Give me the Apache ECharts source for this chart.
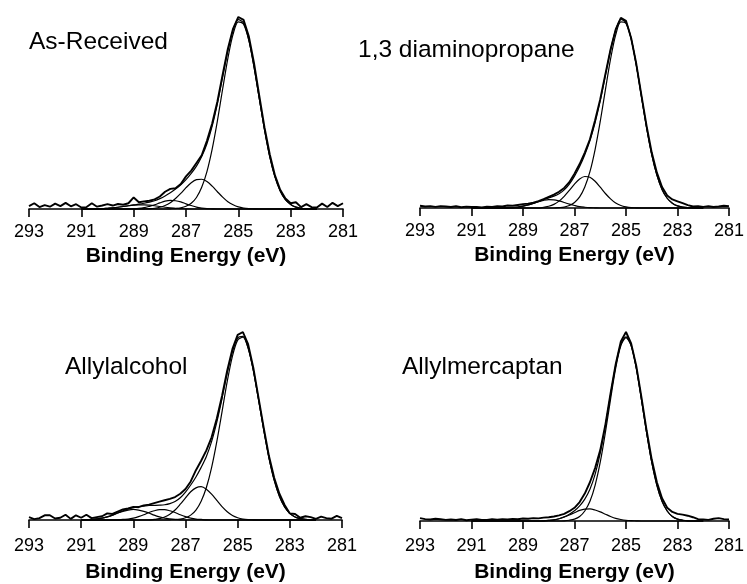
<!DOCTYPE html>
<html>
<head>
<meta charset="utf-8">
<title>C1s spectra</title>
<script src="https://cdn.jsdelivr.net/npm/echarts@6/dist/echarts.min.js"></script>
<style>
  html, body { margin: 0; padding: 0; background: #fff; }
  #chart { width: 747px; height: 584px; }
</style>
</head>
<body>
<div id="chart"></div>
<script>
// binding energy grids (eV)
const dataEnergy = [
  293.0, 292.8, 292.6, 292.4, 292.2, 292.0, 291.8, 291.6, 291.4, 291.2,
  291.0, 290.8, 290.6, 290.4, 290.2, 290.0, 289.8, 289.6, 289.4, 289.2,
  289.0, 288.8, 288.6, 288.4, 288.2, 288.0, 287.8, 287.6, 287.4, 287.2,
  287.0, 286.8, 286.6, 286.4, 286.2, 286.0, 285.8, 285.6, 285.4, 285.2,
  285.0, 284.8, 284.6, 284.4, 284.2, 284.0, 283.8, 283.6, 283.4, 283.2,
  283.0, 282.8, 282.6, 282.4, 282.2, 282.0, 281.8, 281.6, 281.4, 281.2,
  281.0
];
const fitEnergy = [
  291.0, 290.8, 290.6, 290.4, 290.2, 290.0, 289.8, 289.6, 289.4, 289.2,
  289.0, 288.8, 288.6, 288.4, 288.2, 288.0, 287.8, 287.6, 287.4, 287.2,
  287.0, 286.8, 286.6, 286.4, 286.2, 286.0, 285.8, 285.6, 285.4, 285.2,
  285.0, 284.8, 284.6, 284.4, 284.2, 284.0, 283.8, 283.6, 283.4, 283.2,
  283.0, 282.8, 282.6, 282.4, 282.2, 282.0
];
const tickLabels = [293, 291, 289, 287, 285, 283, 281];
const panelNames = ['As-Received', '1,3 diaminopropane', 'Allylalcohol', 'Allylmercaptan'];

// As-Received
const asRecData = [
  1.5, 3.0, 1.0, 2.0, 1.2, 2.8, 1.5, 3.2, 1.4, 2.5,
  0.8, 1.0, 3.0, 1.2, 1.8, 2.5, 1.8, 2.6, 2.2, 3.0,
  6.0, 3.5, 4.0, 4.3, 5.0, 6.5, 9.0, 10.5, 10.8, 13.0,
  17.0, 20.0, 24.0, 28.0, 35.5, 44.5, 56.0, 70.0, 83.5, 94.0,
  100, 98.5, 90.0, 76.0, 59.0, 42.5, 28.5, 17.5, 10.0, 5.5,
  3.0, 3.5, 1.0, 2.5, 1.0, 0.8, 2.8, 1.0, 3.2, 1.5,
  3.0
];
const asRecFit = [
  0, 0, 0, 0.1, 0.2, 0.4, 0.6, 0.9, 1.3, 1.7,
  2.1, 2.5, 3.0, 3.6, 4.3, 5.4, 6.8, 8.5, 10.4, 12.6,
  15.3, 18.5, 22.3, 27.3, 34.0, 43.2, 54.9, 68.7, 82.3, 93.3,
  98.6, 96.8, 88.1, 74.0, 57.6, 41.3, 27.3, 16.7, 9.4, 4.9,
  2.4, 1.0, 0.4, 0.2, 0.1, 0
];
const asRecPeakA = [
  0, 0, 0, 0, 0, 0, 0, 0, 0, 0,
  0, 0, 0, 0, 0, 0, 0, 0.1, 0.2, 0.6,
  1.4, 3.0, 6.0, 11.3, 19.5, 31.2, 45.9, 62.5, 78.5, 91.1,
  97.5, 96.3, 87.9, 73.9, 57.6, 41.3, 27.3, 16.7, 9.4, 4.9,
  2.4, 1.0, 0.4, 0.2, 0.1, 0
];
const asRecPeakB = [
  0, 0, 0, 0, 0, 0, 0, 0, 0, 0,
  0, 0, 0.1, 0.2, 0.4, 0.9, 1.8, 3.3, 5.5, 8.1,
  11.1, 13.7, 15.3, 15.5, 14.3, 11.9, 9.0, 6.2, 3.8, 2.2,
  1.1, 0.5, 0.2, 0.1, 0, 0, 0, 0, 0, 0,
  0, 0, 0, 0, 0, 0
];
const asRecPeakC = [
  0, 0, 0, 0, 0, 0, 0, 0, 0, 0,
  0.1, 0.3, 0.7, 1.4, 2.2, 3.2, 4.1, 4.5, 4.3, 3.7,
  2.7, 1.8, 1.0, 0.5, 0.2, 0.1, 0, 0, 0, 0,
  0, 0, 0, 0, 0, 0, 0, 0, 0, 0,
  0, 0, 0, 0, 0, 0
];
const asRecPeakD = [
  0, 0, 0, 0.1, 0.2, 0.4, 0.6, 0.9, 1.3, 1.7,
  2.0, 2.2, 2.2, 2.0, 1.7, 1.3, 0.9, 0.6, 0.4, 0.2,
  0.1, 0, 0, 0, 0, 0, 0, 0, 0, 0,
  0, 0, 0, 0, 0, 0, 0, 0, 0, 0,
  0, 0, 0, 0, 0, 0
];

// 1,3 diaminopropane
const dapData = [
  1.2, 0.8, 1.0, 0.6, 1.0, 0.8, 0.5, 0.9, 0.4, 0.7,
  0.5, 0.6, 0.3, 0.7, 0.6, 0.9, 0.8, 1.3, 1.2, 1.6,
  2.0, 2.3, 2.8, 3.6, 4.6, 5.8, 7.0, 8.5, 10.5, 13.5,
  18.0, 23.0, 29.0, 36.0, 46.0, 57.0, 70.0, 83.0, 93.5, 99.5,
  98.0, 89.0, 75.5, 59.0, 43.0, 29.0, 18.5, 11.0, 6.5, 4.5,
  3.5, 2.5, 1.5, 0.8, 1.0, 0.6, 0.9, 0.5, 0.8, 1.2,
  1.0
];
const dapFit = [
  0, 0, 0, 0, 0, 0, 0, 0.1, 0.2, 0.5,
  1.0, 1.6, 2.4, 3.3, 4.4, 5.3, 6.2, 7.5, 9.5, 12.5,
  16.7, 21.7, 27.9, 35.3, 44.7, 56.2, 69.4, 82.7, 93.2, 98.7,
  97.2, 88.7, 74.9, 58.4, 42.1, 28.0, 17.2, 9.7, 5.1, 2.5,
  1.1, 0.5, 0.2, 0.1, 0, 0
];
const dapPeakA = [
  0, 0, 0, 0, 0, 0, 0, 0, 0, 0,
  0, 0, 0, 0, 0, 0, 0, 0.2, 0.5, 1.3,
  2.9, 5.8, 11.0, 19.0, 30.6, 45.3, 61.8, 77.9, 90.6, 97.4,
  96.6, 88.5, 74.8, 58.4, 42.1, 28.0, 17.2, 9.7, 5.1, 2.5,
  1.1, 0.5, 0.2, 0.1, 0, 0
];
const dapPeakB = [
  0, 0, 0, 0, 0, 0, 0, 0, 0, 0,
  0, 0, 0, 0, 0.4, 0.9, 1.9, 3.6, 6.1, 9.2,
  12.5, 15.2, 16.5, 16.1, 14.0, 10.9, 7.6, 4.8, 2.6, 1.3,
  0.6, 0.2, 0.1, 0, 0, 0, 0, 0, 0, 0,
  0, 0, 0, 0, 0, 0
];
const dapPeakC = [
  0, 0, 0, 0, 0, 0, 0, 0.1, 0.2, 0.5,
  1.0, 1.6, 2.4, 3.3, 4.0, 4.4, 4.3, 3.7, 2.9, 2.0,
  1.3, 0.7, 0.4, 0.2, 0.1, 0, 0, 0, 0, 0,
  0, 0, 0, 0, 0, 0, 0, 0, 0, 0,
  0, 0, 0, 0, 0, 0
];

// Allylalcohol
const alcData = [
  1.5, 0.5, 1.0, 2.5, 2.5, 0.8, 1.2, 2.8, 0.6, 2.5,
  1.2, 2.8, 1.0, 1.5, 2.0, 3.5, 3.2, 4.5, 5.6, 6.2,
  7.0, 6.8, 7.8, 8.2, 9.0, 9.8, 10.5, 11.2, 12.2, 14.0,
  16.5, 20.5, 26.5, 31.5, 37.0, 44.0, 54.0, 66.0, 79.5, 91.0,
  98.5, 100, 93.5, 81.0, 65.0, 49.0, 34.0, 22.5, 14.0, 8.0,
  3.5, 3.2, 1.2, 2.0, 1.5, 0.6, 1.8, 1.0, 0.7, 2.2,
  1.0
];
const alcFit = [
  0, 0.1, 0.3, 0.6, 1.0, 1.7, 2.6, 3.7, 4.9, 5.8,
  6.6, 7.1, 7.4, 7.7, 7.8, 7.9, 8.1, 8.7, 9.8, 11.8,
  14.8, 18.6, 22.9, 28.0, 33.8, 41.7, 52.1, 64.6, 78.1, 89.6,
  96.9, 97.7, 91.6, 79.7, 64.1, 47.9, 33.1, 21.2, 12.6, 6.9,
  3.5, 1.6, 0.7, 0.3, 0.1, 0
];
const alcPeakA = [
  0, 0, 0, 0, 0, 0, 0, 0, 0, 0,
  0, 0, 0, 0, 0, 0, 0, 0.1, 0.2, 0.5,
  1.2, 2.6, 5.3, 10.0, 17.3, 27.9, 41.7, 57.5, 73.7, 87.2,
  95.7, 97.2, 91.4, 79.6, 64.1, 47.9, 33.1, 21.2, 12.6, 6.9,
  3.5, 1.6, 0.7, 0.3, 0.1, 0
];
const alcPeakB = [
  0, 0, 0, 0, 0, 0, 0, 0, 0, 0,
  0, 0, 0, 0, 0.3, 0.7, 1.6, 3.1, 5.3, 8.4,
  11.8, 15.0, 17.1, 17.7, 16.4, 13.8, 10.4, 7.1, 4.4, 2.4,
  1.2, 0.5, 0.2, 0.1, 0, 0, 0, 0, 0, 0,
  0, 0, 0, 0, 0, 0
];
const alcPeakC = [
  0, 0, 0, 0, 0, 0, 0, 0, 0.3, 0.5,
  1.0, 1.8, 2.8, 4.0, 4.9, 5.5, 5.5, 4.9, 4.0, 2.8,
  1.8, 1.0, 0.5, 0.3, 0.1, 0, 0, 0, 0, 0,
  0, 0, 0, 0, 0, 0, 0, 0, 0, 0,
  0, 0, 0, 0, 0, 0
];
const alcPeakD = [
  0, 0.1, 0.3, 0.6, 1.0, 1.7, 2.6, 3.7, 4.6, 5.3,
  5.6, 5.3, 4.6, 3.7, 2.6, 1.7, 1.0, 0.6, 0.3, 0.1,
  0, 0, 0, 0, 0, 0, 0, 0, 0, 0,
  0, 0, 0, 0, 0, 0, 0, 0, 0, 0,
  0, 0, 0, 0, 0, 0
];

// Allylmercaptan
const merData = [
  1.5, 1.0, 0.8, 1.2, 0.9, 0.6, 0.8, 0.5, 1.0, 0.4,
  0.7, 0.9, 0.5, 0.6, 0.9, 0.7, 1.0, 0.8, 1.1, 0.9,
  1.3, 1.2, 1.5, 1.4, 1.8, 2.0, 2.4, 3.0, 3.8, 5.2,
  7.0, 10.0, 14.5, 20.5, 28.0, 37.5, 51.0, 67.5, 83.0, 95.0,
  100, 94.0, 82.0, 65.5, 48.0, 32.5, 20.5, 12.0, 7.0, 4.8,
  3.8, 3.4, 2.8, 2.0, 1.0, 0.8, 0.6, 1.2, 1.5, 1.0,
  0.8
];
const merFit = [
  0, 0, 0, 0, 0, 0, 0, 0, 0, 0,
  0, 0, 0, 0, 0.1, 0.3, 0.6, 1.2, 2.2, 3.6,
  5.4, 8.0, 11.6, 16.8, 24.7, 35.9, 50.5, 66.8, 82.3, 93.5,
  97.4, 92.9, 81.0, 64.4, 46.9, 31.1, 18.9, 10.4, 5.3, 2.4,
  1.0, 0.4, 0.1, 0, 0, 0
];
const merPeakA = [
  0, 0, 0, 0, 0, 0, 0, 0, 0, 0,
  0, 0, 0, 0, 0, 0, 0, 0, 0.1, 0.4,
  1.0, 2.4, 5.3, 10.4, 18.9, 31.1, 46.9, 64.4, 80.9, 92.7,
  97.0, 92.7, 80.9, 64.4, 46.9, 31.1, 18.9, 10.4, 5.3, 2.4,
  1.0, 0.4, 0.1, 0, 0, 0
];
const merPeakB = [
  0, 0, 0, 0, 0, 0, 0, 0, 0, 0,
  0, 0, 0, 0, 0.1, 0.3, 0.6, 1.2, 2.1, 3.2,
  4.4, 5.6, 6.3, 6.4, 5.8, 4.8, 3.6, 2.4, 1.4, 0.8,
  0.4, 0.2, 0.1, 0, 0, 0, 0, 0, 0, 0,
  0, 0, 0, 0, 0, 0
];

const panels = [
  { data: asRecData, fits: [asRecFit, asRecPeakA, asRecPeakB, asRecPeakC, asRecPeakD] },
  { data: dapData, fits: [dapFit, dapPeakA, dapPeakB, dapPeakC] },
  { data: alcData, fits: [alcFit, alcPeakA, alcPeakB, alcPeakC, alcPeakD] },
  { data: merData, fits: [merFit, merPeakA, merPeakB] }
];

// layout of the four plots
const grids = [
  { left: 29, top: 17, width: 314, height: 192 },
  { left: 420, top: 17, width: 313.5, height: 191 },
  { left: 29, top: 332, width: 313, height: 191.5 },
  { left: 420, top: 332, width: 314, height: 192.5 }
];
const labelMargin = [14, 14, 17, 16];
const nameGaps = [37, 37, 42, 41];
const titlePos = [
  { left: 29, top: 29.5 },
  { left: 358, top: 37.5 },
  { left: 65, top: 354.5 },
  { left: 402, top: 354.5 }
];

const FONT = '"Liberation Sans", Arial, sans-serif';

function pairs(xs, ys) {
  return xs.map((x, i) => [x, ys[i]]);
}

const series = [];
panels.forEach((p, k) => {
  p.fits.forEach(f => {
    series.push({
      type: 'line',
      xAxisIndex: k,
      yAxisIndex: k,
      data: pairs(fitEnergy, f),
      smooth: 0.3,
      showSymbol: false,
      clip: false,
      lineStyle: { color: '#000', width: 1.2 },
      z: 2
    });
  });
  series.push({
    type: 'line',
    xAxisIndex: k,
    yAxisIndex: k,
    data: pairs(dataEnergy, p.data),
    showSymbol: false,
    clip: false,
    lineStyle: { color: '#000', width: 1.9 },
    z: 3
  });
});

const chart = echarts.init(document.getElementById('chart'));
chart.setOption({
  animation: false,
  backgroundColor: '#fff',
  title: panelNames.map((t, k) => ({
    text: t,
    left: titlePos[k].left,
    top: titlePos[k].top,
    padding: 0,
    textStyle: { fontFamily: FONT, fontSize: 24.5, fontWeight: 'normal', color: '#000' }
  })),
  grid: grids,
  xAxis: grids.map((g, k) => ({
    type: 'value',
    gridIndex: k,
    min: 281,
    max: 293,
    inverse: true,
    name: 'Binding Energy (eV)',
    nameLocation: 'middle',
    nameGap: nameGaps[k],
    nameTextStyle: { fontFamily: FONT, fontSize: 21, fontWeight: 'bold', color: '#000' },
    axisLine: { onZero: false, lineStyle: { color: '#000', width: 1.6 } },
    axisTick: { customValues: tickLabels, length: 8, lineStyle: { color: '#000', width: 1.6 } },
    axisLabel: { customValues: tickLabels, margin: labelMargin[k], fontFamily: FONT, fontSize: 18, color: '#000' },
    splitLine: { show: false }
  })),
  yAxis: grids.map((g, k) => ({
    type: 'value',
    gridIndex: k,
    min: 0,
    max: 100,
    show: false
  })),
  series: series
});
</script>
</body>
</html>
